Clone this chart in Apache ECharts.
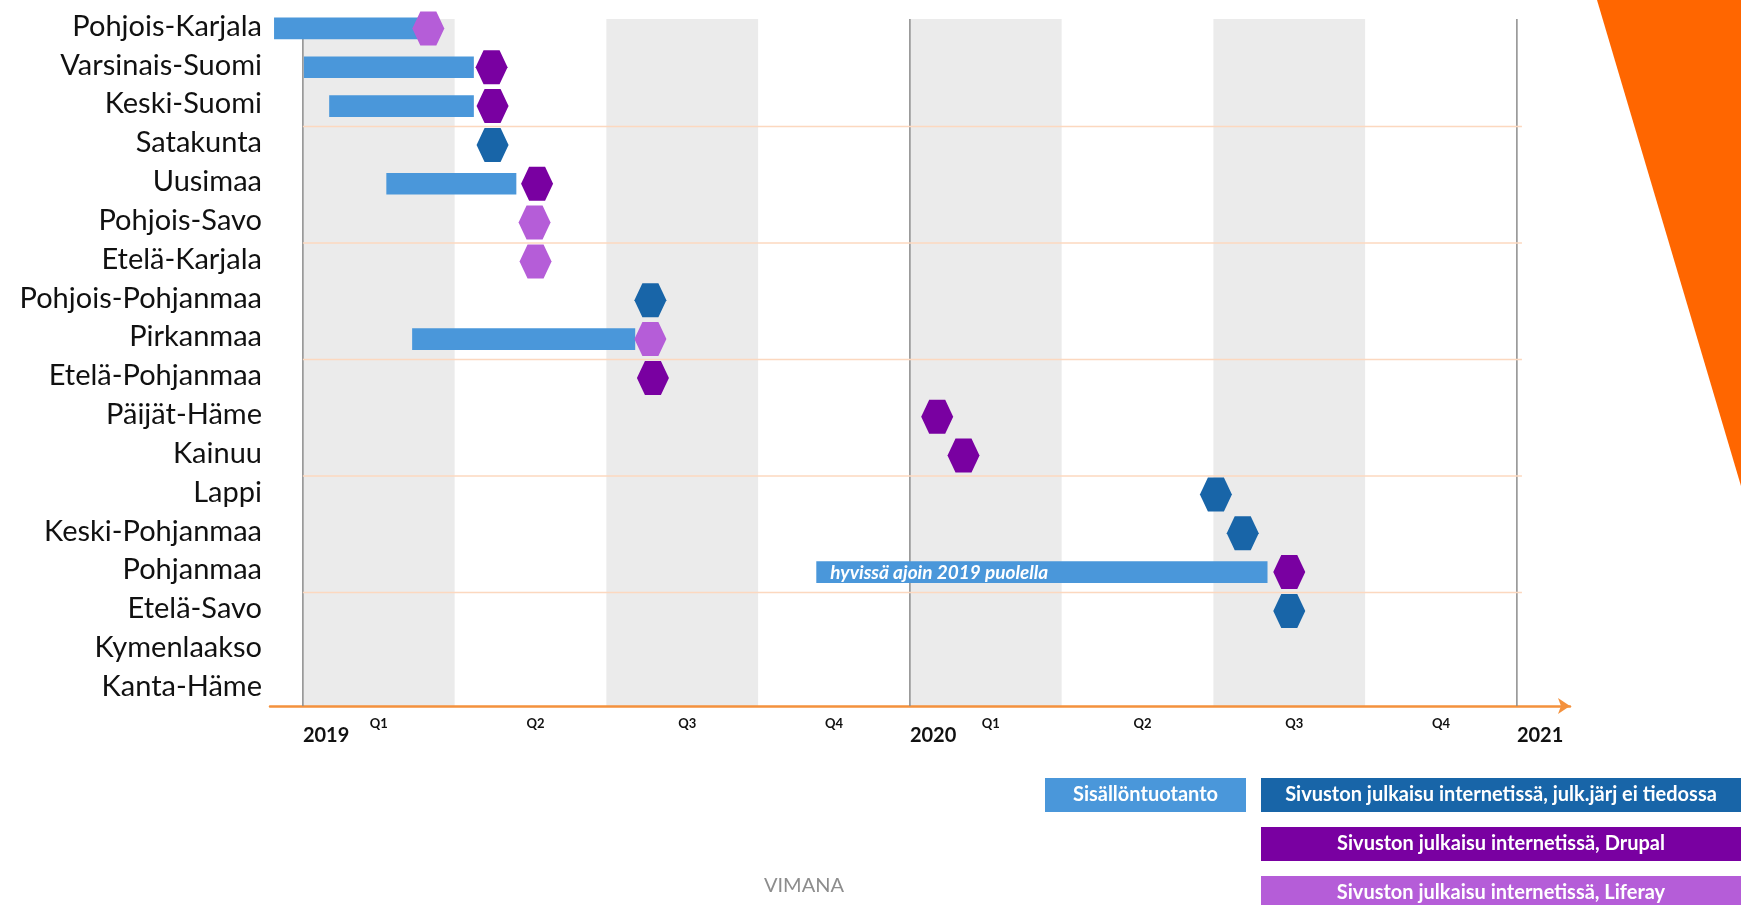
<!DOCTYPE html>
<html>
<head>
<meta charset="utf-8">
<title>Maakuntasivustojen julkaisuaikataulu</title>
<script src="https://cdn.jsdelivr.net/npm/echarts@6/dist/echarts.min.js"></script>
<style>
  html, body { margin: 0; padding: 0; background: #fff; }
  #chart { width: 1741px; height: 905px; }
</style>
</head>
<body>
<div id="chart"></div>
<script>
// maakunnat ylhäältä alas
const regions = [
  'Pohjois-Karjala', 'Varsinais-Suomi', 'Keski-Suomi', 'Satakunta', 'Uusimaa',
  'Pohjois-Savo', 'Etelä-Karjala', 'Pohjois-Pohjanmaa', 'Pirkanmaa', 'Etelä-Pohjanmaa',
  'Päijät-Häme', 'Kainuu', 'Lappi', 'Keski-Pohjanmaa', 'Pohjanmaa',
  'Etelä-Savo', 'Kymenlaakso', 'Kanta-Häme'
]

// aika = kuukautta vuoden 2019 alusta
// sisällöntuotanto (palkit)
const contentRegions = ['Pohjois-Karjala', 'Varsinais-Suomi', 'Keski-Suomi', 'Uusimaa', 'Pirkanmaa', 'Pohjanmaa']
const contentStart = [-0.57, 0.02, 0.52, 1.65, 2.16, 10.15]
const contentEnd = [2.3, 3.38, 3.38, 4.22, 6.57, 19.07]
const contentNote = ['', '', '', '', '', 'hyvissä ajoin 2019 puolella']

// julkaisu, julkaisujärjestelmä ei tiedossa
const unknownRegions = ['Satakunta', 'Pohjois-Pohjanmaa', 'Lappi', 'Keski-Pohjanmaa', 'Etelä-Savo']
const unknownMonths = [3.75, 6.87, 18.05, 18.58, 19.5]

// julkaisu, Drupal
const drupalRegions = ['Varsinais-Suomi', 'Keski-Suomi', 'Uusimaa', 'Etelä-Pohjanmaa', 'Päijät-Häme', 'Kainuu', 'Pohjanmaa']
const drupalMonths = [3.73, 3.75, 4.63, 6.92, 12.54, 13.06, 19.5]

// julkaisu, Liferay
const liferayRegions = ['Pohjois-Karjala', 'Pohjois-Savo', 'Etelä-Karjala', 'Pirkanmaa']
const liferayMonths = [2.48, 4.58, 4.6, 6.87]

// akselin merkinnät
const yearTicks = [0, 12, 24]
const yearLabels = ['2019', '2020', '2021']
const quarterTicks = [1.5, 4.6, 7.6, 10.5, 13.6, 16.6, 19.6, 22.5]
const quarterLabels = ['Q1', 'Q2', 'Q3', 'Q4', 'Q1', 'Q2', 'Q3', 'Q4']

// harmaat neljännekset ja kolmen rivin ryhmät
const shadedQuarters = [0, 6, 12, 18]
const groupBreaks = [3, 6, 9, 12, 15]

const seriesNames = [
  'Sisällöntuotanto',
  'Sivuston julkaisu internetissä, julk.järj ei tiedossa',
  'Sivuston julkaisu internetissä, Drupal',
  'Sivuston julkaisu internetissä, Liferay'
]
const colors = ['#4a97da', '#1865a8', '#7900a1', '#b55dd8']

const FONT = 'Lato, "Open Sans", sans-serif'
const HEX = 'path://M0,50 L25,0 L75,0 L100,50 L75,100 L25,100 Z'
const TOP_GAP = 12

function pickLabel (ticks, labels, value) {
  let best = 0
  ticks.forEach((t, i) => {
    if (Math.abs(t - value) < Math.abs(ticks[best] - value)) best = i
  })
  return labels[best]
}

function hexSeries (name, color, names, months) {
  return {
    name: name,
    type: 'scatter',
    symbol: HEX,
    symbolSize: [32, 34],
    symbolOffset: [0, 2],
    itemStyle: { color: color, opacity: 1 },
    z: 5,
    data: names.map((r, i) => [months[i], r])
  }
}

function legendBox (x, y, w, idx, size) {
  return {
    type: 'rect',
    shape: { x: x, y: y, width: w, height: 34 },
    style: { fill: colors[idx] },
    textContent: { style: { text: seriesNames[idx], fill: '#fff', font: 'bold ' + size + 'px ' + FONT } },
    textConfig: { position: 'inside' }
  }
}

const chart = echarts.init(document.getElementById('chart'))

const option = {
  animation: false,
  backgroundColor: '#fff',
  grid: { left: 270, right: 171, top: 7, bottom: 199, containLabel: false, outerBoundsMode: 'none' },
  xAxis: [
    {
      type: 'value',
      min: -0.65,
      max: 25.05,
      position: 'bottom',
      axisLine: {
        show: true,
        lineStyle: { color: '#f4913d', width: 2.5 },
        symbol: ['none', 'arrow'],
        symbolSize: [12, 12]
      },
      axisTick: { show: false },
      splitLine: { show: false },
      axisLabel: {
        customValues: yearTicks,
        margin: 20,
        align: 'left',
        fontFamily: FONT,
        fontWeight: 'bold',
        fontSize: 20,
        color: '#111',
        formatter: v => pickLabel(yearTicks, yearLabels, v)
      }
    },
    {
      type: 'value',
      min: -0.65,
      max: 25.05,
      position: 'bottom',
      offset: 0,
      axisLine: { show: false },
      axisTick: { show: false },
      splitLine: { show: false },
      axisLabel: {
        customValues: quarterTicks,
        margin: 11,
        fontFamily: FONT,
        fontWeight: 'bold',
        fontSize: 13,
        color: '#111',
        formatter: v => pickLabel(quarterTicks, quarterLabels, v)
      }
    }
  ],
  yAxis: {
    type: 'category',
    data: regions,
    inverse: true,
    axisLine: { show: false },
    axisTick: { show: false },
    splitLine: { show: false },
    axisLabel: {
      margin: 8,
      fontFamily: FONT,
      fontSize: 29,
      color: '#111'
    }
  },
  series: [
    {
      // harmaat neljännekset
      type: 'custom',
      silent: true,
      z: 0,
      data: shadedQuarters.map(q => [q, 0]),
      renderItem (params, api) {
        const cs = params.coordSys
        const a = api.coord([api.value(0), 0])
        const b = api.coord([api.value(0) + 3, 0])
        return {
          type: 'rect',
          shape: { x: a[0], y: cs.y + TOP_GAP, width: b[0] - a[0], height: cs.height - TOP_GAP },
          style: { fill: '#ebebeb' }
        }
      }
    },
    {
      // vuosiviivat
      type: 'custom',
      silent: true,
      z: 1,
      data: yearTicks.map(t => [t, 0]),
      renderItem (params, api) {
        const cs = params.coordSys
        const x = api.coord([api.value(0), 0])[0]
        return {
          type: 'line',
          shape: { x1: x, y1: cs.y + TOP_GAP, x2: x, y2: cs.y + cs.height },
          style: { stroke: '#8c8c8c', lineWidth: 1.5 }
        }
      }
    },
    {
      // kolmen rivin erottimet
      type: 'custom',
      silent: true,
      z: 1,
      data: groupBreaks.map(i => [0, i]),
      renderItem (params, api) {
        const p = api.coord([0, api.value(1)])
        const q = api.coord([24.1, api.value(1)])
        const y = p[1] - api.size([0, 1])[1] / 2 + 3
        return {
          type: 'line',
          shape: { x1: p[0], y1: y, x2: q[0], y2: y },
          style: { stroke: '#fcd8bf', lineWidth: 1.5 }
        }
      }
    },
    {
      name: seriesNames[0],
      type: 'custom',
      z: 3,
      encode: { x: [0, 1], y: 2 },
      data: contentRegions.map((r, i) => [contentStart[i], contentEnd[i], r, contentNote[i]]),
      renderItem (params, api) {
        const p0 = api.coord([api.value(0), api.value(2)])
        const p1 = api.coord([api.value(1), api.value(2)])
        const h = api.size([0, 1])[1] * 0.56
        const note = contentNote[params.dataIndex]
        const children = [{
          type: 'rect',
          shape: { x: p0[0], y: p0[1] - h / 2 + 2, width: p1[0] - p0[0], height: h },
          style: { fill: colors[0] }
        }]
        if (note) {
          children.push({
            type: 'text',
            x: p0[0] + 14,
            y: p0[1] + 3,
            style: {
              text: note,
              fill: '#fff',
              font: 'italic bold 19px ' + FONT,
              verticalAlign: 'middle'
            }
          })
        }
        return { type: 'group', children: children }
      }
    },
    hexSeries(seriesNames[1], colors[1], unknownRegions, unknownMonths),
    hexSeries(seriesNames[2], colors[2], drupalRegions, drupalMonths),
    hexSeries(seriesNames[3], colors[3], liferayRegions, liferayMonths)
  ],
  graphic: [
    {
      type: 'polygon',
      silent: true,
      shape: { points: [[1597, 0], [1741, 0], [1741, 486]] },
      style: { fill: '#ff6600' }
    },
    legendBox(1045, 778, 201, 0, 20),
    legendBox(1261, 778, 480, 1, 20),
    legendBox(1261, 827, 480, 2, 20),
    legendBox(1261, 876, 480, 3, 20),
    {
      type: 'text',
      x: 804,
      y: 886,
      style: {
        text: 'VIMANA',
        fill: '#8d8d8d',
        font: '20px ' + FONT,
        align: 'center',
        verticalAlign: 'middle'
      }
    }
  ]
}

chart.setOption(option)
window.addEventListener('resize', () => chart.resize())
</script>
</body>
</html>
